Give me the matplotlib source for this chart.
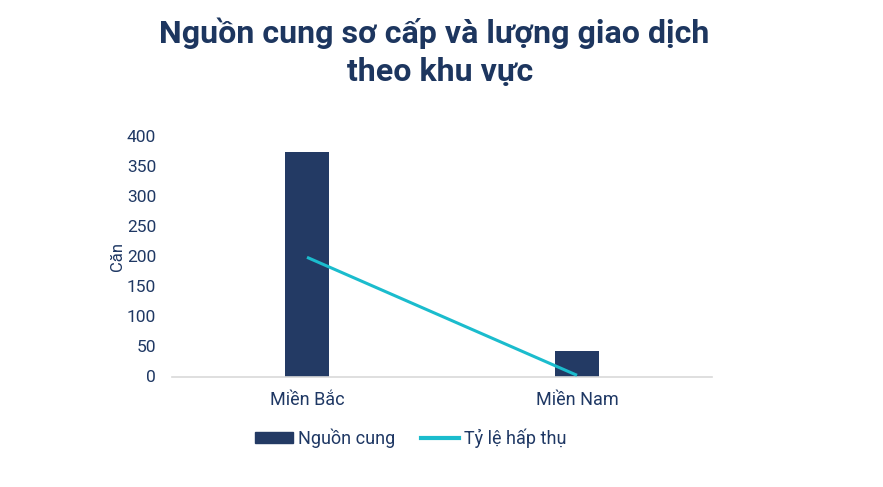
import matplotlib
matplotlib.use("Agg")
import matplotlib.pyplot as plt
from matplotlib.patches import Patch
from matplotlib.lines import Line2D

categories = ["Miền Bắc", "Miền Nam"]
supply = [373, 42]
absorption = [198, 2]
yticks = [0, 50, 100, 150, 200, 250, 300, 350, 400]

plt.rcParams['font.family'] = ['Roboto', 'DejaVu Sans']
navy = "#1d365f"
bar_color = "#233a64"
line_color = "#1bbccd"
text_color = "#1f3864"

fig = plt.figure(figsize=(8.83, 4.87), dpi=100)
ax = fig.add_axes([172/883, 1-376.5/487, 540/883, (376.5-135.7)/487])

x = list(range(len(categories)))
ax.bar(x, supply, width=0.165, color=bar_color, zorder=2)
ax.plot(x, absorption, color=line_color, linewidth=2.2, zorder=3, solid_capstyle='butt')

ax.set_xlim(-0.5, 1.5)
ax.set_ylim(0, 400)
ax.set_yticks(yticks)
ax.set_xticks(x)
ax.set_xticklabels(categories)
for s in ["top", "right", "left"]:
    ax.spines[s].set_visible(False)
ax.spines["bottom"].set_color("#d9d9d9")
ax.spines["bottom"].set_linewidth(1.2)
ax.tick_params(axis="y", length=0, labelsize=12.5, labelcolor=text_color, pad=11.5)
ax.tick_params(axis="x", length=0, labelsize=13, labelcolor=text_color, pad=10.5)
ax.set_ylabel("Căn", fontsize=12, color=text_color, labelpad=1.5)

fig.text(434/883, 1-33/487, "Nguồn cung sơ cấp và lượng giao dịch", ha="center", va="center",
         fontsize=23.1, fontweight="bold", color=navy)
fig.text(440/883, 1-72/487, "theo khu vực", ha="center", va="center",
         fontsize=23.1, fontweight="bold", color=navy)

handles = [Patch(facecolor=bar_color, edgecolor=bar_color),
           Line2D([0], [0], color=line_color, linewidth=3)]
fig.legend(handles, ["Nguồn cung", "Tỷ lệ hấp thụ"], loc="center",
           bbox_to_anchor=(411/883, 1-438/487), ncol=2, frameon=False,
           fontsize=13, labelcolor=text_color, handlelength=2.1, handleheight=0.6,
           columnspacing=1.4, handletextpad=0.3)

fig.savefig("out.png", dpi=100)
